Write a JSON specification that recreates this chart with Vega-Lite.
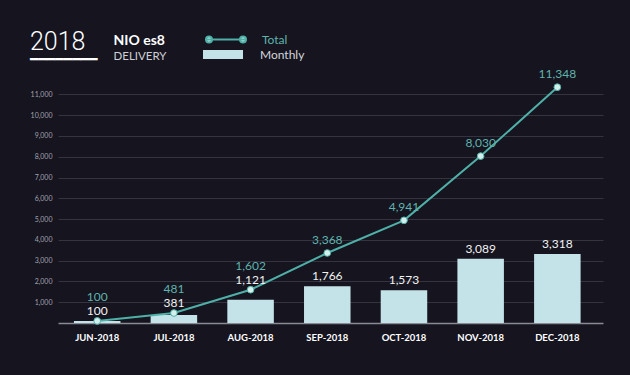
{
  "$schema": "https://vega.github.io/schema/vega-lite/v6.json",
  "width": 545,
  "height": 239,
  "autosize": {"type": "none"},
  "padding": {"left": 58, "top": 84, "right": 27, "bottom": 52},
  "background": "#15141f",
  "title": {
    "text": "2018",
    "subtitle": "━━━━━━━━",
    "anchor": "start",
    "frame": "group",
    "dx": -28,
    "offset": -48,
    "font": "Roboto",
    "fontWeight": 300,
    "fontSize": 25,
    "color": "#ffffff",
    "subtitleFont": "DejaVu Sans",
    "subtitleFontSize": 14,
    "subtitleColor": "#ffffff",
    "subtitlePadding": -2
  },
  "config": {
    "view": {"stroke": null},
    "font": "Lato"
  },
  "data": {
    "values": [
      {"month": "JUN-2018", "monthly": 100, "total": 100},
      {"month": "JUL-2018", "monthly": 381, "total": 481},
      {"month": "AUG-2018", "monthly": 1121, "total": 1602},
      {"month": "SEP-2018", "monthly": 1766, "total": 3368},
      {"month": "OCT-2018", "monthly": 1573, "total": 4941},
      {"month": "NOV-2018", "monthly": 3089, "total": 8030},
      {"month": "DEC-2018", "monthly": 3318, "total": 11348}
    ]
  },
  "layer": [
    {
      "mark": {"type": "bar"},
      "encoding": {
        "x": {
          "field": "month",
          "type": "nominal",
          "sort": null,
          "scale": {"paddingInner": 0.3935, "paddingOuter": 0.25, "align": 0.416},
          "axis": {
            "title": "DELIVERY",
            "titleX": 55,
            "titleY": -264,
            "titleAlign": "left",
            "titleBaseline": "alphabetic",
            "titleFont": "Lato",
            "titleFontSize": 11.5,
            "titleFontWeight": "normal",
            "titleColor": "#cfd0d6",
            "labelAngle": 0,
            "labelColor": "#ffffff",
            "labelFont": "Lato",
            "labelFontWeight": "bold",
            "labelFontSize": 9.5,
            "labelPadding": 9,
            "ticks": false,
            "domain": true,
            "domainColor": "#8a8a92",
            "domainWidth": 1.5,
            "grid": false
          }
        },
        "y": {
          "field": "monthly",
          "type": "quantitative",
          "scale": {"domain": [0, 11500], "nice": false},
          "axis": {
            "title": "NIO es8",
            "titleAngle": 0,
            "titleX": 55,
            "titleY": -40,
            "titleAlign": "left",
            "titleBaseline": "alphabetic",
            "titleFont": "Lato",
            "titleFontSize": 14,
            "titleFontWeight": "bold",
            "titleColor": "#ffffff",
            "values": [1000, 2000, 3000, 4000, 5000, 6000, 7000, 8000, 9000, 10000, 11000],
            "tickCount": 12,
            "labelExpr": "format(datum.value, ',')",
            "labelOverlap": false,
            "labelColor": "#a2a2ac",
            "labelFontSize": 7,
            "labelPadding": 6,
            "ticks": false,
            "domain": false,
            "grid": true,
            "gridColor": "#34333f",
            "gridWidth": 1
          }
        },
        "fill": {
          "datum": "Monthly",
          "scale": {"range": ["#c4e3e8"]},
          "legend": {
            "orient": "none",
            "legendX": 145,
            "legendY": -49.5,
            "title": null,
            "padding": 0,
            "symbolType": "M -1 -0.22 L 1 -0.22 L 1 0.22 L -1 0.22 Z",
            "symbolSize": 1600,
            "symbolStrokeWidth": 0,
            "labelColor": "#d3d6dc",
            "labelFont": "Lato",
            "labelFontSize": 12,
            "labelOffset": 17
          }
        }
      }
    },
    {
      "mark": {"type": "line", "strokeWidth": 2},
      "encoding": {
        "x": {"field": "month", "type": "nominal", "sort": null},
        "y": {"field": "total", "type": "quantitative"},
        "stroke": {
          "datum": "Total",
          "scale": {"range": ["#4fb0a8"]},
          "legend": {
            "orient": "none",
            "legendX": 147,
            "legendY": -65.5,
            "title": null,
            "padding": 0,
            "symbolType": "M -1 0 L 1 0 M -1 0 a 0.15 0.15 0 1 0 0.3 0 a 0.15 0.15 0 1 0 -0.3 0 M 0.7 0 a 0.15 0.15 0 1 0 0.3 0 a 0.15 0.15 0 1 0 -0.3 0",
            "symbolSize": 1600,
            "symbolStrokeWidth": 2,
            "labelColor": "#5fb3ad",
            "labelFont": "Lato",
            "labelFontSize": 12,
            "labelOffset": 15,
            "encode": {"symbols": {"update": {"fill": {"value": "#cdeeea"}}}}
          }
        }
      }
    },
    {
      "mark": {"type": "point", "filled": true, "size": 45, "fill": "#d4f0ec", "stroke": "#4fb0a8", "strokeWidth": 1, "opacity": 1},
      "encoding": {
        "x": {"field": "month", "type": "nominal", "sort": null},
        "y": {"field": "total", "type": "quantitative"}
      }
    },
    {
      "transform": [{"filter": {"not": {"field": "month", "oneOf": ["JUN-2018", "JUL-2018", "AUG-2018"]}}}],
      "mark": {"type": "text", "baseline": "alphabetic", "dy": -6, "fontSize": 12, "color": "#f2f2f2", "font": "Lato"},
      "encoding": {
        "x": {"field": "month", "type": "nominal", "sort": null},
        "y": {"field": "monthly", "type": "quantitative"},
        "text": {"field": "monthly", "type": "quantitative", "format": ","}
      }
    },
    {
      "transform": [{"filter": {"field": "month", "oneOf": ["JUN-2018", "JUL-2018", "AUG-2018"]}}],
      "mark": {"type": "text", "baseline": "alphabetic", "dy": -6, "fontSize": 12, "color": "#f2f2f2", "font": "Lato"},
      "encoding": {
        "x": {"field": "month", "type": "nominal", "sort": null},
        "y": {"field": "total", "type": "quantitative"},
        "text": {"field": "monthly", "type": "quantitative", "format": ","}
      }
    },
    {
      "transform": [{"filter": {"not": {"field": "month", "oneOf": ["JUN-2018", "JUL-2018", "AUG-2018"]}}}],
      "mark": {"type": "text", "baseline": "alphabetic", "dy": -9, "fontSize": 12, "color": "#5fb3ad", "font": "Lato"},
      "encoding": {
        "x": {"field": "month", "type": "nominal", "sort": null},
        "y": {"field": "total", "type": "quantitative"},
        "text": {"field": "total", "type": "quantitative", "format": ","}
      }
    },
    {
      "transform": [{"filter": {"field": "month", "oneOf": ["JUN-2018", "JUL-2018", "AUG-2018"]}}],
      "mark": {"type": "text", "baseline": "alphabetic", "dy": -20, "fontSize": 12, "color": "#5fb3ad", "font": "Lato"},
      "encoding": {
        "x": {"field": "month", "type": "nominal", "sort": null},
        "y": {"field": "total", "type": "quantitative"},
        "text": {"field": "total", "type": "quantitative", "format": ","}
      }
    }
  ]
}
